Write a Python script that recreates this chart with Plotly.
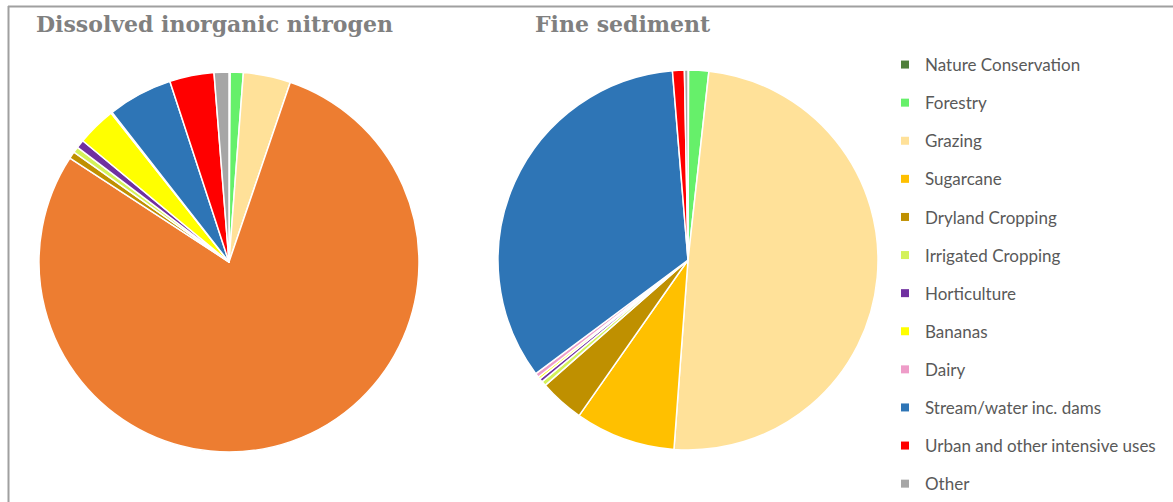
import plotly.graph_objects as go

# Land-use categories (clockwise from 12 o'clock) and their colours
categories = [
    "Nature Conservation", "Forestry", "Grazing", "Sugarcane",
    "Dryland Cropping", "Irrigated Cropping", "Horticulture", "Bananas",
    "Dairy", "Stream/water inc. dams", "Urban and other intensive uses", "Other",
]
colors = [
    "#4f7f3a", "#66f06a", "#ffe199", "#ffc000",
    "#bf9000", "#d4f25a", "#7030a0", "#ffff00",
    "#ee9cc8", "#2e75b6", "#ff0000", "#a6a6a6",
]

# Share of load (%) by land use
din_share = [0.1, 1.1, 4.0, 78.5, 0.6, 0.5, 0.7, 3.3, 0.1, 5.5, 3.75, 1.25]
sediment_share = [0.05, 1.7, 49.2, 8.5, 3.8, 0.4, 0.3, 0.2, 0.35, 33.75, 1.0, 0.3]

# In the DIN chart the sugarcane slice is shown in orange
din_colors = list(colors)
din_colors[3] = "#ed7d31"

W, H = 1173, 502

fig = go.Figure()

fig.add_trace(go.Pie(
    labels=categories, values=din_share, sort=False, direction="clockwise",
    rotation=0, textinfo="none", hoverinfo="label+percent", showlegend=False,
    marker=dict(colors=din_colors, line=dict(color="white", width=1.5)),
    domain=dict(x=[39 / W, 419 / W], y=[1 - 452 / H, 1 - 72 / H]),
))
fig.add_trace(go.Pie(
    labels=categories, values=sediment_share, sort=False, direction="clockwise",
    rotation=0, textinfo="none", hoverinfo="label+percent", showlegend=False,
    marker=dict(colors=colors, line=dict(color="white", width=1.5)),
    domain=dict(x=[498 / W, 878 / W], y=[1 - 450 / H, 1 - 70 / H]),
))

# Legend entries, one group per category so they can be spaced apart
for name, col in zip(categories, colors):
    fig.add_trace(go.Scatter(
        x=[None], y=[None], mode="markers", name=name, legendgroup=name,
        marker=dict(symbol="square", size=8, color=col),
        hoverinfo="skip",
    ))

title_font = dict(family="DejaVu Serif", size=22, color="#808080")
fig.add_annotation(text="<b>Dissolved inorganic nitrogen</b>", x=34 / W, y=1 - 24 / H,
                   xref="paper", yref="paper", xanchor="left", yanchor="middle",
                   showarrow=False, font=title_font)
fig.add_annotation(text="<b>Fine sediment</b>", x=533 / W, y=1 - 24 / H,
                   xref="paper", yref="paper", xanchor="left", yanchor="middle",
                   showarrow=False, font=title_font)

# Frame lines along the top and left edges
fig.add_shape(type="line", xref="paper", yref="paper", x0=8 / W, x1=1, y0=1 - 6.5 / H, y1=1 - 6.5 / H,
              line=dict(color="#a0a0a0", width=2))
fig.add_shape(type="line", xref="paper", yref="paper", x0=8.5 / W, x1=8.5 / W, y0=0, y1=1 - 6 / H,
              line=dict(color="#a0a0a0", width=2))

fig.update_layout(
    width=W, height=H,
    margin=dict(l=0, r=0, t=0, b=0),
    paper_bgcolor="white", plot_bgcolor="white",
    xaxis=dict(visible=False), yaxis=dict(visible=False),
    legend=dict(
        x=885 / W, y=1 - 53 / H, xanchor="left", yanchor="top",
        traceorder="grouped", tracegroupgap=13,
        font=dict(family="Lato", size=17, color="#595959"),
        itemwidth=30, bgcolor="rgba(0,0,0,0)",
    ),
    showlegend=True,
)

fig.write_html("out.html")
